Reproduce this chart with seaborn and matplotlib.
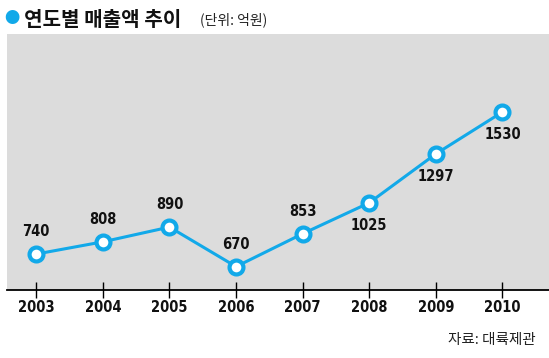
import pandas as pd
import matplotlib.pyplot as plt
import seaborn as sns

# Data
years = ["2003", "2004", "2005", "2006", "2007", "2008", "2009", "2010"]
sales = [740, 808, 890, 670, 853, 1025, 1297, 1530]
label_below = [False, False, False, False, False, True, True, True]

df = pd.DataFrame({"year": years, "sales": sales})
df["x"] = range(len(df))

sns.set_theme(style="white")
plt.rcParams['font.family'] = ['DejaVu Sans']

blue = "#12a9e9"
fig = plt.figure(figsize=(5.49, 3.58), dpi=100)
ax = fig.add_axes([7 / 549, 68 / 358, 542 / 549, 256 / 358])
ax.set_facecolor("#dcdcdc")

sns.lineplot(data=df, x="x", y="sales", ax=ax, color=blue, linewidth=2.2,
             marker="o", markersize=10, markerfacecolor="white",
             markeredgecolor=blue, markeredgewidth=3)

# value labels
for x, y, below in zip(df["x"], df["sales"], label_below):
    off = -16 if below else 16
    ax.annotate(str(y), (x, y), textcoords="offset points", xytext=(0, off),
                ha="center", va="center", fontsize=10.5, fontweight="bold",
                fontstretch="condensed", color="#111111")

ax.set_xlim(-0.44, 7.7)
ax.set_ylim(540, 1964)
ax.set_xticks(df["x"])
ax.set_xticklabels(years, fontsize=10.5, fontweight="bold", fontstretch="condensed",
                   color="#111111")
ax.set_yticks([])
ax.set_xlabel("")
ax.set_ylabel("")
ax.tick_params(axis="x", direction="inout", length=12, width=1, color="black",
               bottom=True, pad=1)
for s in ["top", "left", "right"]:
    ax.spines[s].set_visible(False)
ax.spines["bottom"].set_color("black")
ax.spines["bottom"].set_linewidth(1.3)

# Title
kr = ["Noto Sans CJK KR", "DejaVu Sans"]
fig.text(12 / 549, 1 - 19 / 358, "●", color=blue, fontsize=11, ha="center",
         va="center", family=kr)
fig.text(24 / 549, 1 - 19 / 358, "연도별 매출액 추이", fontsize=14.5,
         fontweight="black", ha="left", va="center", color="#111111", family=kr)
fig.text(200 / 549, 1 - 20 / 358, "(단위: 억원)", fontsize=10, ha="left",
         va="center", color="#222222", family=kr)
fig.text(536 / 549, 1 - 340 / 358, "자료: 대륙제관", fontsize=10.5, ha="right",
         va="center", color="#222222", family=kr)

fig.savefig("out.png", dpi=100)
